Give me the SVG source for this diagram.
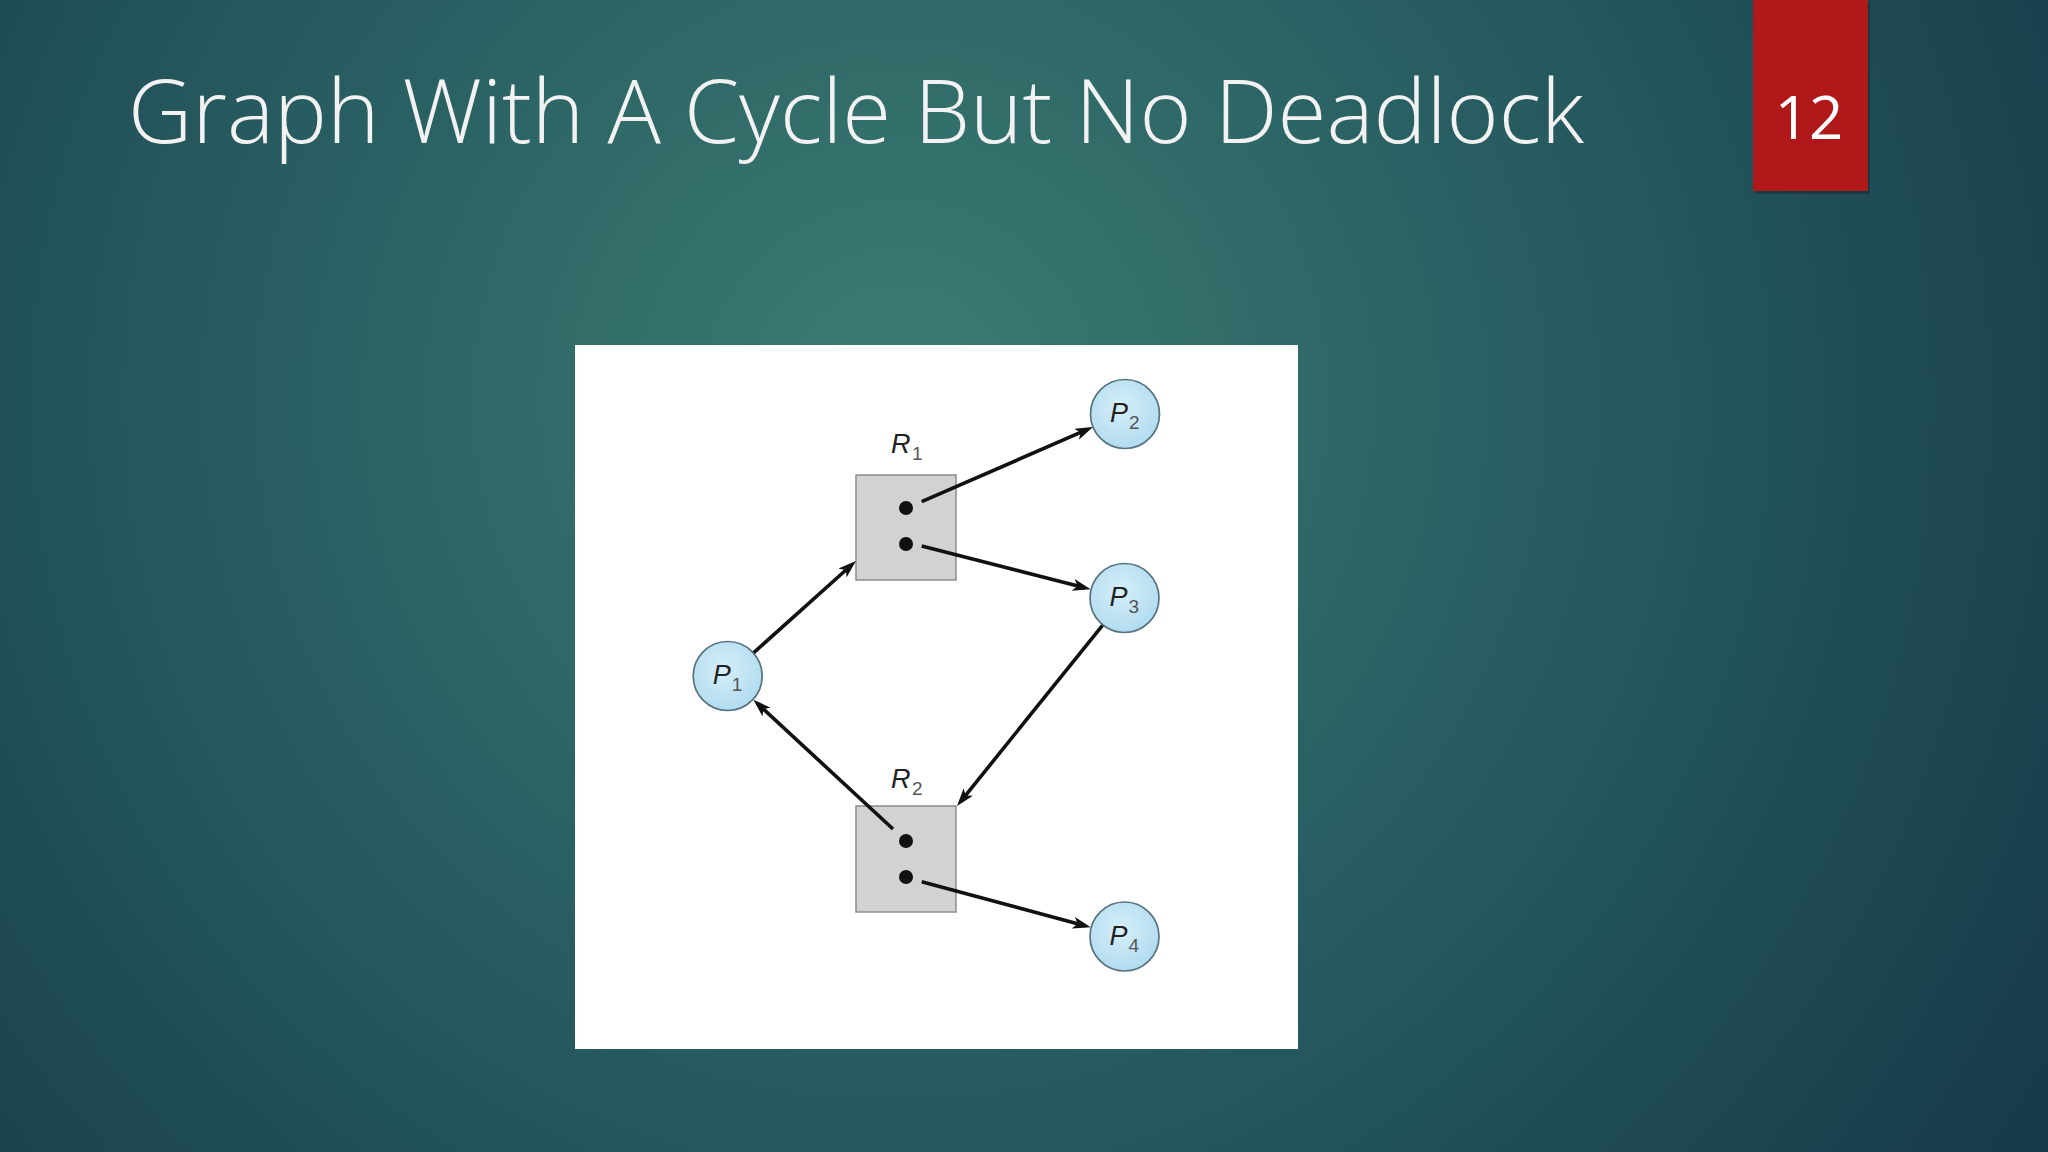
<svg xmlns="http://www.w3.org/2000/svg" width="2048" height="1152" viewBox="0 0 2048 1152">
<defs>
<radialGradient id="bg" cx="900" cy="400" r="1350" gradientUnits="userSpaceOnUse">
<stop offset="0" stop-color="#3c7c72"/>
<stop offset="0.4" stop-color="#2a6264"/>
<stop offset="1" stop-color="#163a4a"/>
</radialGradient>
<radialGradient id="pc" cx="0.45" cy="0.4" r="0.6">
<stop offset="0" stop-color="#d6eef9"/>
<stop offset="1" stop-color="#b2dcf0"/>
</radialGradient>
<marker id="ah" markerUnits="userSpaceOnUse" markerWidth="19" markerHeight="13" refX="12" refY="6" orient="auto">
<path d="M0,0 L18,6 L0,12 L4.5,6 z" fill="#111"/>
</marker>
</defs>
<style>
.title{font-family:"Open Sans","Liberation Sans",sans-serif;font-weight:300;fill:#f2f2f2}
.num{font-family:"Open Sans","Liberation Sans",sans-serif;font-weight:400;fill:#ffffff}
.box{fill:#d2d2d2;stroke:#8c8c8c;stroke-width:1.5}
.proc{fill:url(#pc);stroke:#56737f;stroke-width:1.7}
.dot{fill:#111}
.lbl{font-family:"Liberation Sans",Arial,sans-serif;font-style:italic;font-size:27px;fill:#222}
.sub{font-family:"Liberation Sans",Arial,sans-serif;font-size:19px;fill:#555}
.edge{stroke:#111;stroke-width:3.6;fill:none;marker-end:url(#ah)}
</style>
<rect x="0" y="0" width="2048" height="1152" fill="url(#bg)"/>
<text class="title" x="128" y="143" font-size="88" textLength="1456" lengthAdjust="spacingAndGlyphs">Graph With A Cycle But No Deadlock</text>
<g id="pagenum">
<rect x="1755" y="2" width="115" height="192" fill="#0d2a33" opacity="0.5"/>
<rect x="1753" y="0" width="115" height="191" fill="#b0181a"/>
<text class="num" x="1809" y="139" font-size="60" text-anchor="middle">12</text>
</g>
<rect id="panel" x="575" y="345" width="723" height="704" fill="#ffffff"/>
<g id="R1">
<rect class="box" x="856" y="475" width="100" height="105"/>
<circle class="dot" cx="906" cy="508" r="7"/>
<circle class="dot" cx="906" cy="544" r="7"/>
<text class="lbl" x="891" y="453">R</text><text class="sub" x="912" y="460">1</text>
</g>
<g id="R2">
<rect class="box" x="856" y="806" width="100" height="106"/>
<circle class="dot" cx="906" cy="841" r="7"/>
<circle class="dot" cx="906" cy="877" r="7"/>
<text class="lbl" x="891" y="788">R</text><text class="sub" x="912" y="795">2</text>
</g>
<g id="P1">
<circle class="proc" cx="727.7" cy="676" r="34.5"/>
<text class="lbl" x="712.7" y="684">P</text><text class="sub" x="731.7" y="691">1</text>
</g>
<g id="P2">
<circle class="proc" cx="1125" cy="414" r="34.5"/>
<text class="lbl" x="1110" y="422">P</text><text class="sub" x="1129" y="429">2</text>
</g>
<g id="P3">
<circle class="proc" cx="1124.5" cy="598" r="34.5"/>
<text class="lbl" x="1109.5" y="606">P</text><text class="sub" x="1128.5" y="613">3</text>
</g>
<g id="P4">
<circle class="proc" cx="1124.5" cy="936.5" r="34.5"/>
<text class="lbl" x="1109.5" y="944.5">P</text><text class="sub" x="1128.5" y="951.5">4</text>
</g>
<g id="connectors">
<line class="edge" x1="753.8" y1="652.6" x2="851.5" y2="565"/>
<line class="edge" x1="921.7" y1="501.7" x2="1087.5" y2="429.4"/>
<line class="edge" x1="921.7" y1="546" x2="1084.8" y2="587.8"/>
<line class="edge" x1="1102.5" y1="625.3" x2="960.8" y2="801.3"/>
<line class="edge" x1="893" y1="829" x2="757.8" y2="703.9"/>
<line class="edge" x1="921.7" y1="881.7" x2="1084.9" y2="925.8"/>
</g>
</svg>
